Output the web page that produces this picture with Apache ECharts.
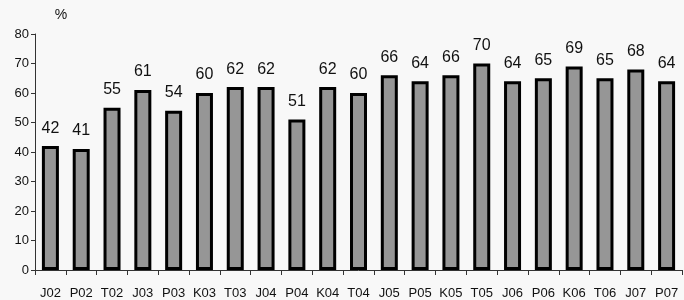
<!DOCTYPE html>
<html>
<head>
<meta charset="utf-8">
<style>
html, body {margin:0; padding:0; background:#f8f8f8;}
#main {width:684px; height:300px;}
</style>
<script src="https://cdn.jsdelivr.net/npm/echarts@6/dist/echarts.min.js"></script>
</head>
<body>
<div id="main"></div>
<script>
var categories = ['J02','P02','T02','J03','P03','K03','T03','J04','P04','K04','T04','J05','P05','K05','T05','J06','P06','K06','T06','J07','P07'];
var values = [42, 41, 55, 61, 54, 60, 62, 62, 51, 62, 60, 66, 64, 66, 70, 64, 65, 69, 65, 68, 64];
var yTicks = [0, 10, 20, 30, 40, 50, 60, 70, 80];

var chart = echarts.init(document.getElementById('main'));
var font = 'Liberation Sans, Arial, sans-serif';

chart.setOption({
    backgroundColor: '#f8f8f8',
    animation: false,
    grid: {left: 35, right: 2, top: 34, bottom: 30},
    xAxis: {
        type: 'category',
        data: categories,
        axisLine: {lineStyle: {color: '#333', width: 1}},
        axisTick: {show: true, length: 5, lineStyle: {color: '#333'}},
        axisLabel: {color: '#111', fontFamily: font, fontSize: 13, margin: 17, interval: 0}
    },
    yAxis: {
        type: 'value',
        min: yTicks[0],
        max: yTicks[yTicks.length - 1],
        interval: 10,
        name: '%',
        nameLocation: 'end',
        nameGap: 12,
        nameTextStyle: {color: '#111', fontFamily: font, fontSize: 14, padding: [0, 0, 0, 52]},
        splitLine: {show: false},
        axisLine: {show: true, lineStyle: {color: '#333', width: 1}},
        axisTick: {show: true, length: 4, lineStyle: {color: '#333'}},
        axisLabel: {color: '#111', fontFamily: font, fontSize: 13, margin: 6}
    },
    series: [{
        type: 'bar',
        data: values,
        barWidth: 17,
        itemStyle: {color: '#969696', borderColor: '#000', borderWidth: 3},
        label: {
            show: true,
            position: 'top',
            distance: 10,
            color: '#111',
            fontFamily: font,
            fontSize: 16
        }
    }]
});
</script>
</body>
</html>
